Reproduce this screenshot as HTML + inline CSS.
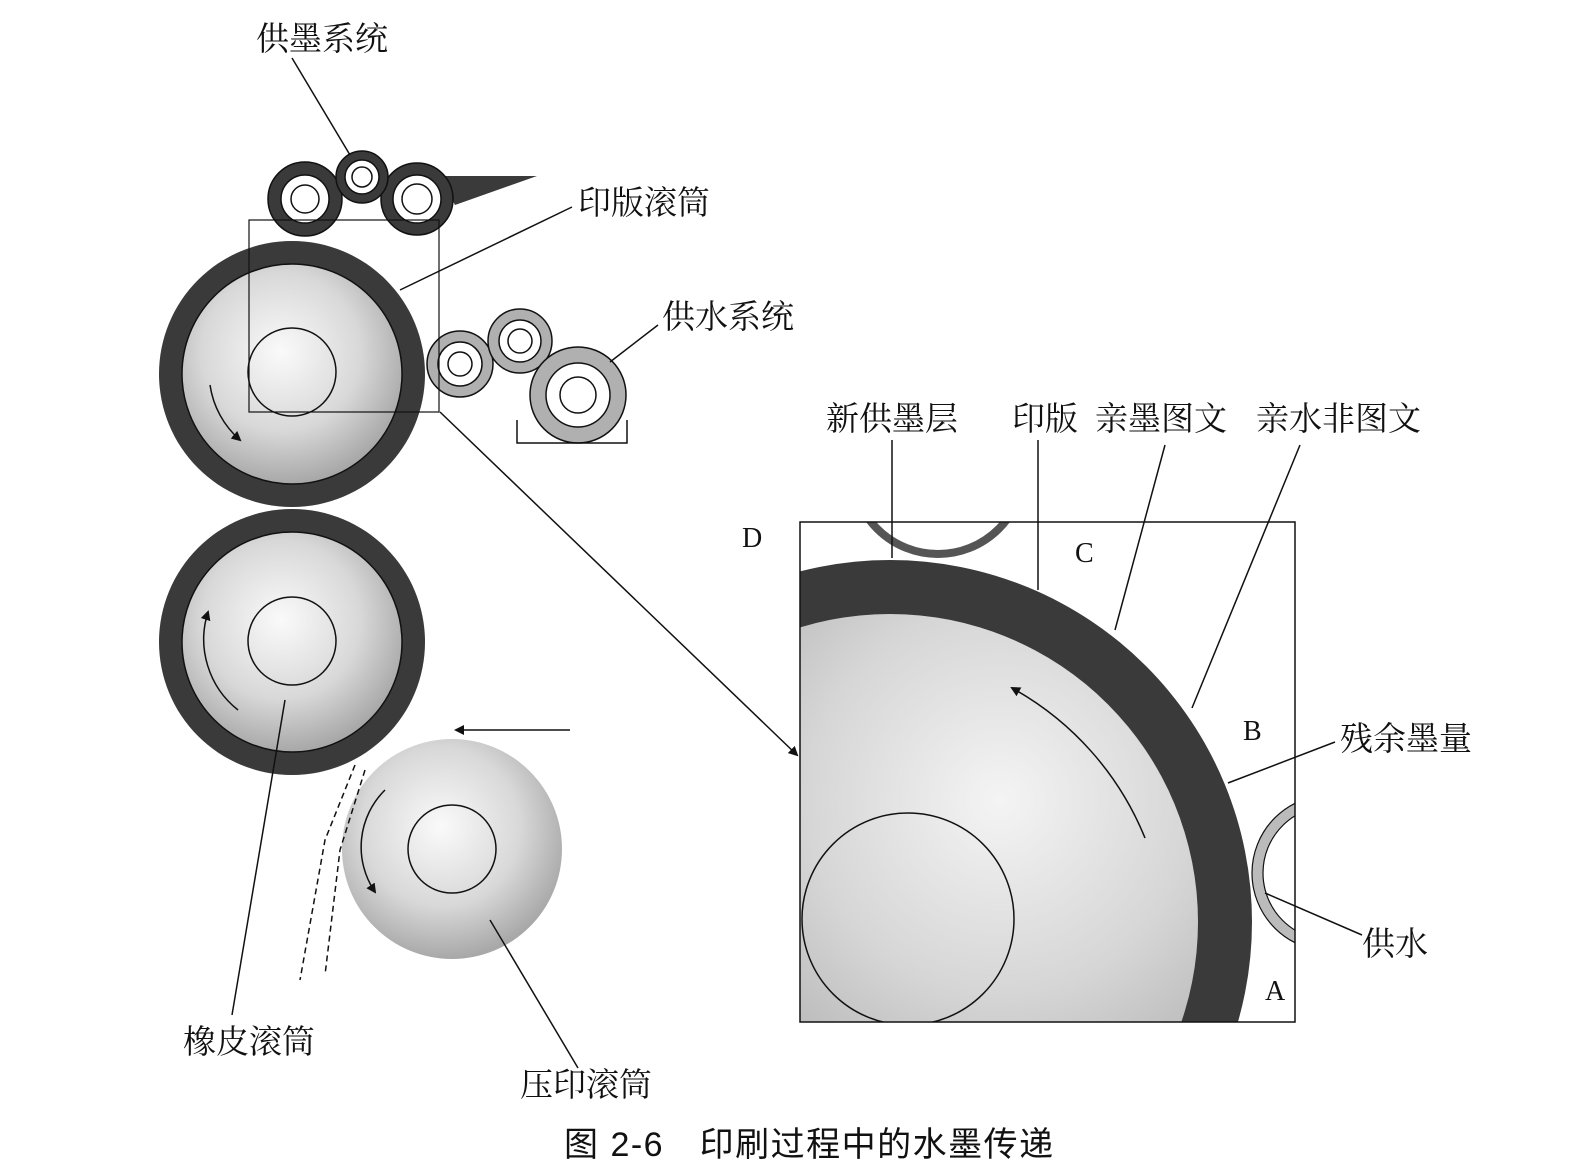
<!DOCTYPE html>
<html><head><meta charset="utf-8"><style>
html,body{margin:0;padding:0;background:#fff;overflow:hidden;width:1570px;height:1174px;}
svg{display:block;}
svg text{font-family:"Liberation Serif","Noto Serif CJK SC","Noto Sans CJK SC",serif;fill:#111;}
</style></head><body>
<svg width="1570" height="1174" viewBox="0 0 1570 1174" xmlns="http://www.w3.org/2000/svg">
<defs>
<radialGradient id="g1" cx="0.45" cy="0.4" r="0.6"><stop offset="0" stop-color="#fafafa"/><stop offset="0.6" stop-color="#d8d8d8"/><stop offset="1" stop-color="#a8a8a8"/></radialGradient>
<radialGradient id="g2" gradientUnits="userSpaceOnUse" cx="1000" cy="800" r="320"><stop offset="0" stop-color="#f4f4f4"/><stop offset="0.6" stop-color="#d6d6d6"/><stop offset="1" stop-color="#b8b8b8"/></radialGradient>
<clipPath id="box"><rect x="800" y="522" width="495" height="500"/></clipPath>
<marker id="ar" markerWidth="10" markerHeight="10" refX="8" refY="5" orient="auto" markerUnits="userSpaceOnUse"><path d="M0,0 L10,5 L0,10 z" fill="#111"/></marker>
</defs>
<g stroke="#111" stroke-width="1.5">
<polygon points="440,176 537,176 455,205" fill="#3a3a3a" stroke="none"/>
<circle cx="305" cy="199" r="37" fill="#3a3a3a"/><circle cx="305" cy="199" r="24" fill="#fff"/><circle cx="305" cy="199" r="14" fill="#fff"/>
<circle cx="417" cy="199" r="36" fill="#3a3a3a"/><circle cx="417" cy="199" r="24" fill="#fff"/><circle cx="417" cy="199" r="15" fill="#fff"/>
<circle cx="362" cy="177" r="26" fill="#3a3a3a"/><circle cx="362" cy="177" r="17" fill="#fff"/><circle cx="362" cy="177" r="10" fill="#fff"/>
<circle cx="292" cy="374" r="133" fill="#3a3a3a" stroke="none"/>
<circle cx="292" cy="374" r="110" fill="url(#g1)"/>
<circle cx="292" cy="372" r="44" fill="none"/>
<circle cx="292" cy="642" r="133" fill="#3a3a3a" stroke="none"/>
<circle cx="292" cy="642" r="110" fill="url(#g1)"/>
<circle cx="292" cy="641" r="44" fill="none"/>
<circle cx="452" cy="849" r="110" fill="url(#g1)" stroke="none"/>
<circle cx="452" cy="849" r="44" fill="none"/>
<circle cx="460" cy="364" r="33" fill="#b0b0b0"/><circle cx="460" cy="364" r="22" fill="#fff"/><circle cx="460" cy="364" r="12" fill="#fff"/>
<circle cx="520" cy="341" r="32" fill="#b0b0b0"/><circle cx="520" cy="341" r="21" fill="#fff"/><circle cx="520" cy="341" r="12" fill="#fff"/>
<circle cx="578" cy="395" r="48" fill="#b0b0b0"/><circle cx="578" cy="395" r="32" fill="#fff"/><circle cx="578" cy="395" r="18" fill="#fff"/>
<polyline points="517,420 517,443 627,443 627,420" fill="none"/>
<rect x="249" y="220" width="190" height="192" fill="none" stroke-width="1.2"/>
</g>
<g fill="none" stroke="#111" stroke-width="1.5">
<path d="M210,385 A90,90 0 0 0 240,440" marker-end="url(#ar)"/>
<path d="M238,710 A90,90 0 0 1 208,612" marker-end="url(#ar)"/>
<path d="M385,790 A80,80 0 0 0 375,892" marker-end="url(#ar)"/>
<line x1="570" y1="730" x2="456" y2="730" marker-end="url(#ar)"/>
<path d="M355,765 L325,840 L300,980" stroke-dasharray="6,4"/>
<path d="M365,770 L340,850 L325,975" stroke-dasharray="6,4"/>
<line x1="440" y1="412" x2="797" y2="755" marker-end="url(#ar)"/>
<line x1="292" y1="58" x2="350" y2="155"/>
<line x1="572" y1="207" x2="400" y2="290"/>
<line x1="658" y1="325" x2="610" y2="362"/>
<line x1="285" y1="700" x2="232" y2="1015"/>
<line x1="490" y1="920" x2="578" y2="1068"/>
</g>
<g clip-path="url(#box)">
<rect x="800" y="522" width="495" height="500" fill="#fff"/>
<circle cx="938" cy="468" r="86" fill="none" stroke="#555" stroke-width="8"/>
<circle cx="890" cy="922" r="362" fill="#3a3a3a"/>
<circle cx="890" cy="922" r="308" fill="url(#g2)"/>
<circle cx="908" cy="919" r="106" fill="none" stroke="#111" stroke-width="1.5"/>
<circle cx="1330" cy="873" r="72.5" fill="none" stroke="#bbb" stroke-width="11"/>
<circle cx="1330" cy="873" r="78" fill="none" stroke="#111" stroke-width="1.2"/>
<circle cx="1330" cy="873" r="67" fill="none" stroke="#111" stroke-width="1.2"/>
</g>
<rect x="800" y="522" width="495" height="500" fill="none" stroke="#111" stroke-width="1.5"/>
<g fill="none" stroke="#111" stroke-width="1.5">
<path d="M1145,838 A300,300 0 0 0 1012,688" marker-end="url(#ar)"/>
<line x1="892" y1="440" x2="892" y2="558"/>
<line x1="1038" y1="440" x2="1038" y2="590"/>
<line x1="1165" y1="445" x2="1115" y2="630"/>
<line x1="1300" y1="445" x2="1192" y2="708"/>
<line x1="1335" y1="742" x2="1228" y2="783"/>
<line x1="1362" y1="935" x2="1265" y2="893"/>
</g>
<g font-size="33">
<text x="256" y="50">供墨系统</text>
<text x="578" y="214">印版滚筒</text>
<text x="662" y="328">供水系统</text>
<text x="183" y="1053">橡皮滚筒</text>
<text x="520" y="1096">压印滚筒</text>
<text x="826" y="430">新供墨层</text>
<text x="1012" y="430">印版</text>
<text x="1095" y="430">亲墨图文</text>
<text x="1256" y="430">亲水非图文</text>
<text x="1340" y="750">残余墨量</text>
<text x="1362" y="955">供水</text>
<text x="742" y="547" font-size="28">D</text>
<text x="1075" y="562" font-size="28">C</text>
<text x="1243" y="740" font-size="28">B</text>
<text x="1265" y="1000" font-size="28">A</text>
</g>
<text x="564" y="1156" font-size="34" letter-spacing="1.5" style="font-family:'Liberation Sans','Noto Sans CJK SC',sans-serif">图 2-6　印刷过程中的水墨传递</text>
</svg>
</body></html>
